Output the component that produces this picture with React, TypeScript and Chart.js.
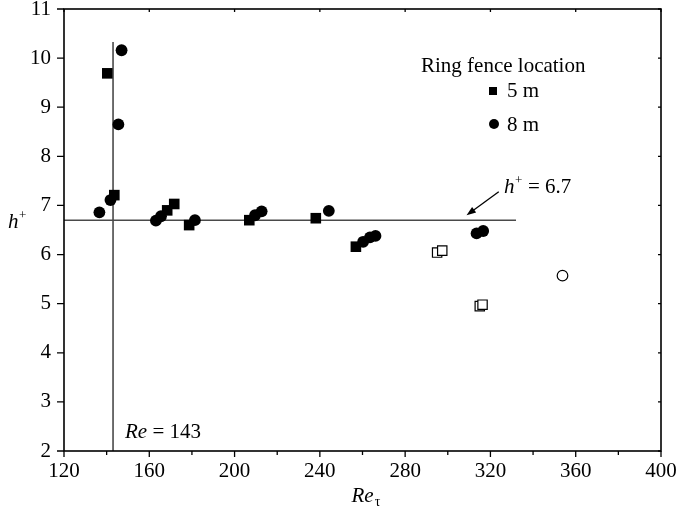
import { useEffect, useRef } from "react";
import { Chart, registerables } from "chart.js";

Chart.register(...registerables);

const SERIF = "'Liberation Serif', 'Times New Roman', serif";
const FS = 21;

// Ring fence at 5 m (filled squares)
const re5m = [140.3, 143.6, 168.4, 171.7, 178.7, 206.9, 238.1, 256.9];
const h5m = [9.69, 7.21, 6.9, 7.03, 6.6, 6.7, 6.74, 6.16];

// Ring fence at 8 m (filled circles)
const re8m = [147.0, 145.5, 141.8, 136.6, 163.1, 165.5, 181.4, 209.6, 212.7, 244.2, 260.3, 263.5, 266.1, 313.5, 316.6];
const h8m = [10.16, 8.65, 7.11, 6.86, 6.69, 6.78, 6.7, 6.8, 6.88, 6.89, 6.26, 6.35, 6.38, 6.43, 6.48];

// Additional runs (open symbols)
const reOpenSquare = [295.0, 297.4, 315.0, 316.3];
const hOpenSquare = [6.04, 6.08, 4.95, 4.98];
const reOpenCircle = [353.8];
const hOpenCircle = [5.57];

// Reference lines
const criticalRe = 143;
const criticalLineTop = 10.33;
const hPlusMean = 6.7;
const meanLineEndRe = 332;
const arrowTail = { re: 323.9, h: 7.28 };
const arrowHead = { re: 308.8, h: 6.8 };

// Axis ranges and ticks
const xMin = 120;
const xMax = 400;
const xMajorStep = 40;
const xMinorTicks = [140, 180, 220, 260, 300, 340, 380];
const yMin = 2;
const yMax = 11;
const yStep = 1;

const pts = (xs: number[], ys: number[]) => xs.map((x, i) => ({ x, y: ys[i] }));

const annotations = {
  id: "annotations",
  afterDatasetsDraw(chart: any) {
    const { ctx, chartArea: a, scales } = chart;
    const x = scales.x;
    const y = scales.y;
    ctx.save();

    // frame
    ctx.strokeStyle = "#000";
    ctx.lineWidth = 1.6;
    ctx.strokeRect(a.left, a.top, a.right - a.left, a.bottom - a.top);

    // tick marks
    ctx.lineWidth = 1.3;
    ctx.beginPath();
    for (let v = xMin; v <= xMax; v += xMajorStep) {
      const px = x.getPixelForValue(v);
      ctx.moveTo(px, a.bottom);
      ctx.lineTo(px, a.bottom + 6);
      ctx.moveTo(px, a.top);
      ctx.lineTo(px, a.top + 3);
    }
    xMinorTicks.forEach((v) => {
      const px = x.getPixelForValue(v);
      ctx.moveTo(px, a.bottom);
      ctx.lineTo(px, a.bottom + 4);
    });
    for (let v = yMin; v <= yMax; v += yStep) {
      const py = y.getPixelForValue(v);
      ctx.moveTo(a.left - 7, py);
      ctx.lineTo(a.left, py);
      ctx.moveTo(a.right - 3, py);
      ctx.lineTo(a.right, py);
    }
    ctx.stroke();

    ctx.fillStyle = "#000";
    ctx.textBaseline = "alphabetic";
    ctx.textAlign = "left";

    // y-axis title h+
    ctx.font = `italic ${FS}px ${SERIF}`;
    ctx.fillText("h", 8, 228);
    ctx.font = `13px ${SERIF}`;
    ctx.fillText("+", 19, 219);

    // x-axis title Re_tau
    ctx.font = `italic ${FS}px ${SERIF}`;
    const reW = ctx.measureText("Re").width;
    const cx = (a.left + a.right) / 2 - 11;
    ctx.fillText("Re", cx, 502);
    ctx.font = `14px ${SERIF}`;
    ctx.fillText("τ", cx + reW + 1, 506);

    // Re = 143 label
    ctx.font = `italic ${FS}px ${SERIF}`;
    ctx.fillText("Re", 125, 438);
    const w1 = ctx.measureText("Re").width;
    ctx.font = `${FS}px ${SERIF}`;
    ctx.fillText(" = 143", 125 + w1, 438);

    // h+ = 6.7 label
    ctx.font = `italic ${FS}px ${SERIF}`;
    ctx.fillText("h", 504, 193);
    ctx.font = `13px ${SERIF}`;
    ctx.fillText("+", 515, 184);
    ctx.font = `${FS}px ${SERIF}`;
    ctx.fillText("= 6.7", 528, 193);

    // arrow to the mean line
    const tx = x.getPixelForValue(arrowTail.re);
    const ty = y.getPixelForValue(arrowTail.h);
    const hx = x.getPixelForValue(arrowHead.re);
    const hy = y.getPixelForValue(arrowHead.h);
    const ang = Math.atan2(hy - ty, hx - tx);
    ctx.strokeStyle = "#000";
    ctx.lineWidth = 1.3;
    ctx.beginPath();
    ctx.moveTo(tx, ty);
    ctx.lineTo(hx - 6 * Math.cos(ang), hy - 6 * Math.sin(ang));
    ctx.stroke();
    ctx.beginPath();
    ctx.moveTo(hx, hy);
    ctx.lineTo(hx - 10 * Math.cos(ang - 0.35), hy - 10 * Math.sin(ang - 0.35));
    ctx.lineTo(hx - 10 * Math.cos(ang + 0.35), hy - 10 * Math.sin(ang + 0.35));
    ctx.closePath();
    ctx.fill();

    // legend
    ctx.font = `${FS}px ${SERIF}`;
    ctx.fillText("Ring fence location", 421, 72);
    ctx.fillRect(489, 87, 8, 8);
    ctx.fillText("5 m", 507, 97);
    ctx.beginPath();
    ctx.arc(494, 124, 5, 0, Math.PI * 2);
    ctx.fill();
    ctx.fillText("8 m", 507, 131);

    ctx.restore();
  },
};

export default function App() {
  const canvasRef = useRef<HTMLCanvasElement | null>(null);

  useEffect(() => {
    const canvas = canvasRef.current;
    if (!canvas) return;
    const lineColor = "#4a4a4a";
    const chart = new Chart(canvas, {
      type: "scatter",
      data: {
        datasets: [
          {
            label: "5 m",
            data: pts(re5m, h5m),
            pointStyle: "rect",
            pointRadius: 7.5,
            pointBackgroundColor: "#000",
            pointBorderWidth: 0,
            order: 1,
          },
          {
            label: "8 m",
            data: pts(re8m, h8m),
            pointStyle: "circle",
            pointRadius: 5.9,
            pointBackgroundColor: "#000",
            pointBorderWidth: 0,
            order: 1,
          },
          {
            label: "open squares",
            data: pts(reOpenSquare, hOpenSquare),
            pointStyle: "rect",
            pointRadius: 6.6,
            pointBackgroundColor: "#fff",
            pointBorderColor: "#000",
            pointBorderWidth: 1.2,
            order: 1,
          },
          {
            label: "open circle",
            data: pts(reOpenCircle, hOpenCircle),
            pointStyle: "circle",
            pointRadius: 5.3,
            pointBackgroundColor: "#fff",
            pointBorderColor: "#000",
            pointBorderWidth: 1.2,
            order: 1,
          },
          {
            label: "Re = 143",
            data: [
              { x: criticalRe, y: yMin },
              { x: criticalRe, y: criticalLineTop },
            ],
            showLine: true,
            borderColor: lineColor,
            borderWidth: 1.6,
            pointRadius: 0,
            order: 5,
          },
          {
            label: "h+ = 6.7",
            data: [
              { x: xMin, y: hPlusMean },
              { x: meanLineEndRe, y: hPlusMean },
            ],
            showLine: true,
            borderColor: lineColor,
            borderWidth: 1.6,
            pointRadius: 0,
            order: 5,
          },
        ],
      },
      options: {
        responsive: false,
        animation: false,
        layout: { padding: { top: 9, right: 18, left: 0, bottom: 0 } },
        plugins: {
          legend: { display: false },
          tooltip: { enabled: false },
        },
        scales: {
          x: {
            type: "linear",
            min: xMin,
            max: xMax,
            afterFit: (s: any) => {
              s.height = 62;
              s.paddingLeft = 0;
              s.paddingRight = 0;
            },
            grid: { display: false, drawTicks: false },
            border: { display: false },
            ticks: {
              stepSize: xMajorStep,
              autoSkip: false,
              maxRotation: 0,
              padding: 8,
              color: "#000",
              font: { family: SERIF, size: FS },
            },
          },
          y: {
            type: "linear",
            min: yMin,
            max: yMax,
            afterFit: (s: any) => {
              s.width = 64;
              s.paddingTop = 0;
              s.paddingBottom = 0;
            },
            grid: { display: false, drawTicks: false },
            border: { display: false },
            ticks: {
              stepSize: yStep,
              autoSkip: false,
              padding: 13,
              color: "#000",
              font: { family: SERIF, size: FS },
            },
          },
        },
      },
      plugins: [annotations],
    });
    return () => chart.destroy();
  }, []);

  return (
    <div style={{ position: "fixed", left: 0, top: 0, width: 679, height: 513, background: "#fff" }}>
      <canvas ref={canvasRef} width={679} height={513} style={{ display: "block" }} />
    </div>
  );
}
